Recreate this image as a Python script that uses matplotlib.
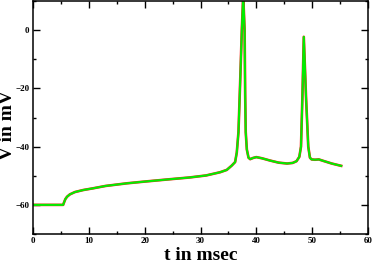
import matplotlib
matplotlib.use("Agg")
import matplotlib.pyplot as plt
from matplotlib.ticker import MultipleLocator

# membrane potential trace (t in msec, V in mV)
t = [0, 5.4, 5.55, 5.8, 6.1, 6.6, 7.5, 9.0, 10.8, 13.0, 16.8, 20.0, 24.5, 28.0,
     31.0, 33.5, 34.7, 35.6, 36.2, 36.5, 36.8, 37.1, 37.4, 37.65, 37.9, 38.0,
     38.1, 38.3, 38.6, 38.9, 39.4, 40.0, 41.0, 42.5, 44.0, 45.5, 46.5, 47.2,
     47.7, 48.0, 48.25, 48.5, 48.9, 49.3, 49.6, 49.9, 50.5, 51.2, 52.0, 53.5, 55.2]
V = [-60, -60, -59.2, -58.0, -57.2, -56.4, -55.6, -54.9, -54.3, -53.5, -52.6,
     -52.0, -51.2, -50.6, -49.9, -48.8, -48.0, -46.5, -45.3, -42.0, -35.0,
     -18.0, 0.0, 12.0, 0.0, -22.0, -35.0, -41.0, -43.8, -44.3, -43.9, -43.6,
     -44.0, -44.8, -45.5, -45.8, -45.6, -45.0, -43.5, -40.0, -23.0, -2.3,
     -23.0, -40.0, -43.8, -44.4, -44.5, -44.4, -44.9, -45.8, -46.6]

fig = plt.figure(figsize=(3.74, 2.63), dpi=100)
ax = fig.add_axes([33/374, 1 - 234/263, (368-33)/374, (234-1)/263])

ax.plot(t, V, color="#ff2020", lw=1.9, solid_joinstyle="round")
ax.plot(t, V, color="#00ee00", lw=1.5, solid_joinstyle="round")

ax.set_xlim(0, 60)
ax.set_ylim(-70, 10)
ax.xaxis.set_major_locator(MultipleLocator(10))
ax.xaxis.set_minor_locator(MultipleLocator(5))
ax.yaxis.set_major_locator(MultipleLocator(20))
ax.yaxis.set_minor_locator(MultipleLocator(10))
ax.tick_params(which="both", direction="in", top=True, right=True, width=1.0)
ax.tick_params(which="major", length=5, pad=2.5)
ax.tick_params(which="minor", length=2.5)
for lab in ax.get_xticklabels() + ax.get_yticklabels():
    lab.set_fontfamily("Liberation Serif")
    lab.set_fontweight("bold")
    lab.set_fontsize(6.5)
for s in ax.spines.values():
    s.set_linewidth(1.1)

ax.set_xlabel("t in msec", fontfamily="Liberation Serif", fontweight="bold",
              fontsize=14, va="baseline")
ax.set_ylabel("V in mV", fontfamily="Liberation Serif", fontweight="bold",
              fontsize=14, va="baseline")
ax.xaxis.set_label_coords(0.5, -0.112)
ax.yaxis.set_label_coords(-0.062, 0.468)

fig.savefig("out.png", dpi=100)
